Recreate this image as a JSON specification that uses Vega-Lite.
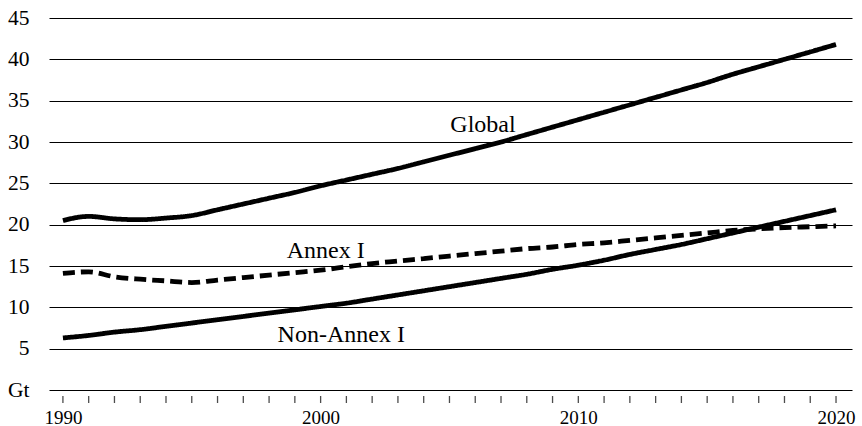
{
  "$schema": "https://vega.github.io/schema/vega-lite/v6.json",
  "width": 803,
  "height": 372,
  "autosize": {"type": "none"},
  "padding": {"left": 49, "top": 18, "right": 10, "bottom": 36},
  "background": "white",
  "config": {"font": "Liberation Serif", "view": {"stroke": null}, "axis": {"labelFont": "Liberation Serif"}},
  "datasets": {
    "series": [
      {"year": 1990, "series": "Global", "gt": 20.5},
      {"year": 1991, "series": "Global", "gt": 21.0},
      {"year": 1992, "series": "Global", "gt": 20.7},
      {"year": 1993, "series": "Global", "gt": 20.6},
      {"year": 1994, "series": "Global", "gt": 20.8},
      {"year": 1995, "series": "Global", "gt": 21.1},
      {"year": 1996, "series": "Global", "gt": 21.8},
      {"year": 1997, "series": "Global", "gt": 22.5},
      {"year": 1998, "series": "Global", "gt": 23.2},
      {"year": 1999, "series": "Global", "gt": 23.9},
      {"year": 2000, "series": "Global", "gt": 24.7},
      {"year": 2001, "series": "Global", "gt": 25.4},
      {"year": 2002, "series": "Global", "gt": 26.1},
      {"year": 2003, "series": "Global", "gt": 26.8},
      {"year": 2004, "series": "Global", "gt": 27.6},
      {"year": 2005, "series": "Global", "gt": 28.4},
      {"year": 2006, "series": "Global", "gt": 29.2},
      {"year": 2007, "series": "Global", "gt": 30.0},
      {"year": 2008, "series": "Global", "gt": 30.9},
      {"year": 2009, "series": "Global", "gt": 31.8},
      {"year": 2010, "series": "Global", "gt": 32.7},
      {"year": 2011, "series": "Global", "gt": 33.6},
      {"year": 2012, "series": "Global", "gt": 34.5},
      {"year": 2013, "series": "Global", "gt": 35.4},
      {"year": 2014, "series": "Global", "gt": 36.3},
      {"year": 2015, "series": "Global", "gt": 37.2},
      {"year": 2016, "series": "Global", "gt": 38.2},
      {"year": 2017, "series": "Global", "gt": 39.1},
      {"year": 2018, "series": "Global", "gt": 40.0},
      {"year": 2019, "series": "Global", "gt": 40.9},
      {"year": 2020, "series": "Global", "gt": 41.8},
      {"year": 1990, "series": "Annex I", "gt": 14.1},
      {"year": 1991, "series": "Annex I", "gt": 14.3},
      {"year": 1992, "series": "Annex I", "gt": 13.7},
      {"year": 1993, "series": "Annex I", "gt": 13.4},
      {"year": 1994, "series": "Annex I", "gt": 13.2},
      {"year": 1995, "series": "Annex I", "gt": 13.0},
      {"year": 1996, "series": "Annex I", "gt": 13.3},
      {"year": 1997, "series": "Annex I", "gt": 13.6},
      {"year": 1998, "series": "Annex I", "gt": 13.9},
      {"year": 1999, "series": "Annex I", "gt": 14.2},
      {"year": 2000, "series": "Annex I", "gt": 14.5},
      {"year": 2001, "series": "Annex I", "gt": 14.9},
      {"year": 2002, "series": "Annex I", "gt": 15.3},
      {"year": 2003, "series": "Annex I", "gt": 15.6},
      {"year": 2004, "series": "Annex I", "gt": 15.9},
      {"year": 2005, "series": "Annex I", "gt": 16.2},
      {"year": 2006, "series": "Annex I", "gt": 16.5},
      {"year": 2007, "series": "Annex I", "gt": 16.8},
      {"year": 2008, "series": "Annex I", "gt": 17.1},
      {"year": 2009, "series": "Annex I", "gt": 17.3},
      {"year": 2010, "series": "Annex I", "gt": 17.6},
      {"year": 2011, "series": "Annex I", "gt": 17.8},
      {"year": 2012, "series": "Annex I", "gt": 18.1},
      {"year": 2013, "series": "Annex I", "gt": 18.4},
      {"year": 2014, "series": "Annex I", "gt": 18.7},
      {"year": 2015, "series": "Annex I", "gt": 19.0},
      {"year": 2016, "series": "Annex I", "gt": 19.3},
      {"year": 2017, "series": "Annex I", "gt": 19.5},
      {"year": 2018, "series": "Annex I", "gt": 19.65},
      {"year": 2019, "series": "Annex I", "gt": 19.75},
      {"year": 2020, "series": "Annex I", "gt": 19.85},
      {"year": 1990, "series": "Non-Annex I", "gt": 6.3},
      {"year": 1991, "series": "Non-Annex I", "gt": 6.6},
      {"year": 1992, "series": "Non-Annex I", "gt": 7.0},
      {"year": 1993, "series": "Non-Annex I", "gt": 7.3},
      {"year": 1994, "series": "Non-Annex I", "gt": 7.7},
      {"year": 1995, "series": "Non-Annex I", "gt": 8.1},
      {"year": 1996, "series": "Non-Annex I", "gt": 8.5},
      {"year": 1997, "series": "Non-Annex I", "gt": 8.9},
      {"year": 1998, "series": "Non-Annex I", "gt": 9.3},
      {"year": 1999, "series": "Non-Annex I", "gt": 9.7},
      {"year": 2000, "series": "Non-Annex I", "gt": 10.1},
      {"year": 2001, "series": "Non-Annex I", "gt": 10.5},
      {"year": 2002, "series": "Non-Annex I", "gt": 11.0},
      {"year": 2003, "series": "Non-Annex I", "gt": 11.5},
      {"year": 2004, "series": "Non-Annex I", "gt": 12.0},
      {"year": 2005, "series": "Non-Annex I", "gt": 12.5},
      {"year": 2006, "series": "Non-Annex I", "gt": 13.0},
      {"year": 2007, "series": "Non-Annex I", "gt": 13.5},
      {"year": 2008, "series": "Non-Annex I", "gt": 14.0},
      {"year": 2009, "series": "Non-Annex I", "gt": 14.6},
      {"year": 2010, "series": "Non-Annex I", "gt": 15.1},
      {"year": 2011, "series": "Non-Annex I", "gt": 15.7},
      {"year": 2012, "series": "Non-Annex I", "gt": 16.4},
      {"year": 2013, "series": "Non-Annex I", "gt": 17.0},
      {"year": 2014, "series": "Non-Annex I", "gt": 17.6},
      {"year": 2015, "series": "Non-Annex I", "gt": 18.3},
      {"year": 2016, "series": "Non-Annex I", "gt": 19.0},
      {"year": 2017, "series": "Non-Annex I", "gt": 19.7},
      {"year": 2018, "series": "Non-Annex I", "gt": 20.4},
      {"year": 2019, "series": "Non-Annex I", "gt": 21.1},
      {"year": 2020, "series": "Non-Annex I", "gt": 21.8}
    ],
    "labels": [
      {"year": 2006.3, "gt": 31.2, "label": "Global"},
      {"year": 2000.2, "gt": 15.95, "label": "Annex I"},
      {"year": 2000.8, "gt": 5.85, "label": "Non-Annex I"}
    ],
    "ticks": [
      {"year": 1990}, {"year": 1991}, {"year": 1992}, {"year": 1993}, {"year": 1994},
      {"year": 1995}, {"year": 1996}, {"year": 1997}, {"year": 1998}, {"year": 1999},
      {"year": 2000}, {"year": 2001}, {"year": 2002}, {"year": 2003}, {"year": 2004},
      {"year": 2005}, {"year": 2006}, {"year": 2007}, {"year": 2008}, {"year": 2009},
      {"year": 2010}, {"year": 2011}, {"year": 2012}, {"year": 2013}, {"year": 2014},
      {"year": 2015}, {"year": 2016}, {"year": 2017}, {"year": 2018}, {"year": 2019},
      {"year": 2020}
    ]
  },
  "layer": [
    {
      "data": {"name": "series"},
      "mark": {"type": "line", "color": "black", "strokeWidth": 4.8, "interpolate": "monotone", "strokeCap": "butt"},
      "encoding": {
        "x": {
          "field": "year", "type": "quantitative",
          "scale": {"domain": [1989.46, 2020.62], "nice": false, "zero": false},
          "axis": {
            "title": null, "grid": false, "domain": false, "offset": 13,
            "values": [1990, 2000, 2010, 2020],
            "format": "d",
            "ticks": false,
            "labelFontSize": 19, "labelColor": "black", "labelPadding": 20, "labelBaseline": "alphabetic",
            "labelFont": "Liberation Serif", "labelOverlap": false, "labelBound": false
          }
        },
        "y": {
          "field": "gt", "type": "quantitative",
          "scale": {"domain": [0, 45], "nice": false},
          "axis": {
            "title": null, "values": [0,5,10,15,20,25,30,35,40,45],
            "labelExpr": "datum.value === 0 ? 'Gt' : '' + datum.value",
            "grid": true, "gridColor": "black", "gridWidth": 1, "gridOpacity": 1,
            "domain": false, "ticks": false, "labelPadding": 20,
            "labelFontSize": 21.5, "labelColor": "black", "labelFont": "Liberation Serif"
          }
        },
        "detail": {"field": "series"},
        "strokeDash": {
          "field": "series", "type": "nominal",
          "scale": {"domain": ["Global", "Annex I", "Non-Annex I"], "range": [[1, 0], [12, 6], [1, 0]]},
          "legend": null
        }
      }
    },
    {
      "data": {"name": "ticks"},
      "mark": {"type": "tick", "orient": "vertical", "color": "black", "thickness": 1.3, "size": 7, "yOffset": 9.5},
      "encoding": {
        "x": {"field": "year", "type": "quantitative"},
        "y": {"datum": 0, "type": "quantitative"}
      }
    },
    {
      "data": {"name": "labels"},
      "mark": {"type": "text", "fontSize": 24, "color": "black", "baseline": "alphabetic", "align": "center", "font": "Liberation Serif"},
      "encoding": {
        "x": {"field": "year", "type": "quantitative"},
        "y": {"field": "gt", "type": "quantitative"},
        "text": {"field": "label"}
      }
    }
  ]
}
